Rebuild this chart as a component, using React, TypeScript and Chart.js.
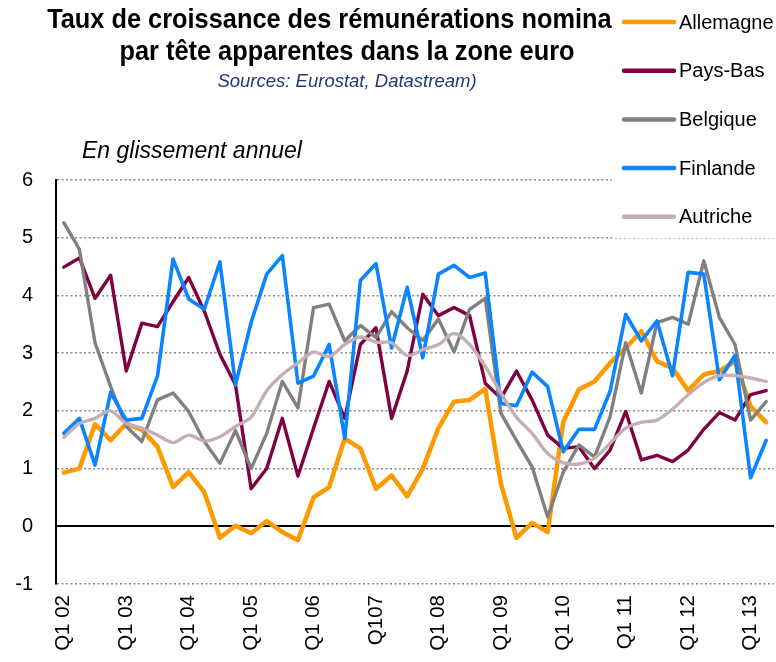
import { useEffect, useRef } from "react";
import { Chart, registerables } from "chart.js";

Chart.register(...registerables);

const categories = [
  "Q1 02", "Q2 02", "Q3 02", "Q4 02",
  "Q1 03", "Q2 03", "Q3 03", "Q4 03",
  "Q1 04", "Q2 04", "Q3 04", "Q4 04",
  "Q1 05", "Q2 05", "Q3 05", "Q4 05",
  "Q1 06", "Q2 06", "Q3 06", "Q4 06",
  "Q1 07", "Q2 07", "Q3 07", "Q4 07",
  "Q1 08", "Q2 08", "Q3 08", "Q4 08",
  "Q1 09", "Q2 09", "Q3 09", "Q4 09",
  "Q1 10", "Q2 10", "Q3 10", "Q4 10",
  "Q1 11", "Q2 11", "Q3 11", "Q4 11",
  "Q1 12", "Q2 12", "Q3 12", "Q4 12",
  "Q1 13", "Q2 13",
];

const yearLabels = [
  "Q1 02", "Q1 03", "Q1 04", "Q1 05", "Q1 06", "Q107",
  "Q1 08", "Q1 09", "Q1 10", "Q1 11", "Q1 12", "Q1 13",
];

const allemagne = [0.93, 1.0, 1.77, 1.49, 1.78, 1.67, 1.38, 0.68, 0.94, 0.59, -0.2, 0.01, -0.12, 0.09, -0.1, -0.24, 0.5, 0.68, 1.52, 1.35, 0.65, 0.88, 0.52, 1.0, 1.7, 2.16, 2.19, 2.38, 0.74, -0.2, 0.06, -0.1, 1.81, 2.37, 2.51, 2.83, 3.09, 3.38, 2.86, 2.74, 2.35, 2.63, 2.69, 2.86, 2.08, 1.8];
const paysBas = [4.49, 4.65, 3.95, 4.35, 2.69, 3.52, 3.46, 3.89, 4.31, 3.73, 2.98, 2.45, 0.65, 1.0, 1.87, 0.87, 1.7, 2.51, 1.87, 3.15, 3.44, 1.87, 2.69, 4.02, 3.65, 3.79, 3.65, 2.48, 2.22, 2.69, 2.19, 1.58, 1.35, 1.38, 1.0, 1.32, 1.99, 1.15, 1.23, 1.12, 1.32, 1.68, 1.97, 1.84, 2.28, 2.35];
const belgique = [5.26, 4.8, 3.18, 2.42, 1.73, 1.47, 2.19, 2.31, 1.99, 1.47, 1.09, 1.66, 1.0, 1.61, 2.51, 2.05, 3.79, 3.85, 3.21, 3.48, 3.27, 3.72, 3.44, 3.22, 3.59, 3.02, 3.76, 3.95, 1.96, 1.49, 1.03, 0.16, 0.94, 1.41, 1.2, 1.9, 3.18, 2.31, 3.53, 3.62, 3.5, 4.6, 3.62, 3.15, 1.84, 2.16];
const finlande = [1.61, 1.87, 1.06, 2.32, 1.84, 1.87, 2.6, 4.63, 3.94, 3.76, 4.58, 2.45, 3.53, 4.37, 4.69, 2.48, 2.6, 3.15, 1.52, 4.26, 4.55, 3.09, 4.14, 2.92, 4.37, 4.52, 4.31, 4.39, 2.13, 2.09, 2.67, 2.42, 1.29, 1.68, 1.68, 2.34, 3.67, 3.21, 3.56, 2.61, 4.4, 4.37, 2.54, 2.96, 0.84, 1.49];
const autriche = [1.54, 1.78, 1.87, 2.0, 1.78, 1.7, 1.58, 1.45, 1.58, 1.48, 1.55, 1.73, 1.89, 2.35, 2.63, 2.83, 3.02, 2.94, 3.15, 3.28, 3.19, 3.18, 2.96, 3.06, 3.15, 3.34, 3.15, 2.77, 2.31, 1.89, 1.61, 1.26, 1.1, 1.08, 1.18, 1.44, 1.7, 1.8, 1.84, 2.03, 2.28, 2.49, 2.61, 2.61, 2.57, 2.51];

const seriesNames = ["Allemagne", "Pays-Bas", "Belgique", "Finlande", "Autriche"];
const seriesColors = ["#FF9900", "#800040", "#808080", "#0A84FF", "#C4AFB4"];
const seriesData = [allemagne, paysBas, belgique, finlande, autriche];
const seriesWidths = [4.5, 3.4, 3.4, 3.6, 3.4];

const FONT = '"Liberation Sans", Arial, sans-serif';
const titleLine1 = "Taux de croissance des rémunérations nominales";
const titleLine2 = "par tête apparentes dans la zone euro";
const subtitle = "Sources: Eurostat, Datastream)";
const unitNote = "En glissement annuel";

const overlayPlugin = {
  id: "overlay",
  afterDraw(chart: any) {
    const ctx = chart.ctx as CanvasRenderingContext2D;
    ctx.save();
    // Title (condensed bold, as in the original)
    ctx.fillStyle = "#000";
    ctx.textAlign = "center";
    ctx.textBaseline = "alphabetic";
    ctx.font = `bold 28px ${FONT}`;
    const w2 = ctx.measureText(titleLine2).width;
    const f = w2 > 0 ? 455 / w2 : 1;
    ctx.save();
    ctx.translate(347, 0);
    ctx.scale(f, 1);
    ctx.fillText(titleLine1, 0, 28);
    ctx.fillText(titleLine2, 0, 60);
    ctx.restore();
    ctx.font = `italic 18.5px ${FONT}`;
    ctx.fillStyle = "#1F3A78";
    ctx.fillText(subtitle, 347, 87);
    ctx.font = `italic 23px ${FONT}`;
    ctx.fillStyle = "#000";
    ctx.textAlign = "left";
    ctx.fillText(unitNote, 82, 158);

    // Legend box
    ctx.fillStyle = "#fff";
    ctx.fillRect(612, 0, 164, 238);
    ctx.font = `20px ${FONT}`;
    ctx.textBaseline = "middle";
    chart.data.datasets.forEach((ds: any, i: number) => {
      const y = 22 + i * 48.7;
      ctx.strokeStyle = ds.borderColor;
      ctx.lineWidth = 4.5;
      ctx.lineCap = "round";
      ctx.beginPath();
      ctx.moveTo(624, y);
      ctx.lineTo(674, y);
      ctx.stroke();
      ctx.fillStyle = "#000";
      ctx.fillText(ds.label, 679, y + 1);
    });
    ctx.restore();
  },
};

export default function App() {
  const ref = useRef<HTMLCanvasElement>(null);

  useEffect(() => {
    document.body.style.margin = "0";
    const canvas = ref.current;
    if (!canvas) return;
    const chart = new Chart(canvas, {
      type: "line",
      data: {
        labels: categories,
        datasets: seriesNames.map((name, i) => ({
          label: name,
          data: seriesData[i],
          borderColor: seriesColors[i],
          backgroundColor: seriesColors[i],
          borderWidth: seriesWidths[i],
          pointRadius: 0,
          pointHoverRadius: 0,
          tension: i === 4 ? 0.3 : 0,
          fill: false,
          borderJoinStyle: "round",
          borderCapStyle: "round",
          order: 4 - i,
        })),
      },
      options: {
        responsive: false,
        animation: false,
        devicePixelRatio: 1,
        layout: { padding: { top: 180, right: 2, left: 0, bottom: 0 } },
        plugins: {
          legend: { display: false },
          title: { display: false },
          tooltip: { enabled: false },
        },
        scales: {
          x: {
            type: "category",
            offset: true,
            grid: { display: false, drawTicks: false },
            border: { display: false },
            ticks: {
              autoSkip: false,
              maxRotation: 90,
              minRotation: 90,
              padding: 11,
              color: "#000",
              font: { family: FONT, size: 20.5 },
              callback: (_v: any, i: number) => (i % 4 === 0 ? yearLabels[i / 4] : ""),
            },
            afterFit: (s: any) => {
              s.height = 78;
              s.paddingLeft = 0;
              s.paddingRight = 0;
            },
          },
          y: {
            min: -1,
            max: 6,
            ticks: {
              stepSize: 1,
              padding: 23,
              color: "#000",
              font: { family: FONT, size: 20 },
            },
            grid: {
              drawTicks: false,
              color: (c: any) => (c.tick && c.tick.value === 0 ? "#000" : "#8a8a8a"),
              lineWidth: (c: any) => (c.tick && c.tick.value === 0 ? 2 : 1.5),
            },
            border: {
              display: true,
              color: "#000",
              width: 2,
              dash: (c: any) => (c.type === "tick" && c.tick && c.tick.value !== 0 ? [2, 2.5] : []),
            },
            afterFit: (s: any) => {
              s.width = 56;
            },
          },
        },
      },
      plugins: [overlayPlugin],
    });
    return () => chart.destroy();
  }, []);

  return (
    <div style={{ width: 776, height: 662 }}>
      <canvas ref={ref} width={776} height={662} style={{ display: "block" }} />
    </div>
  );
}
